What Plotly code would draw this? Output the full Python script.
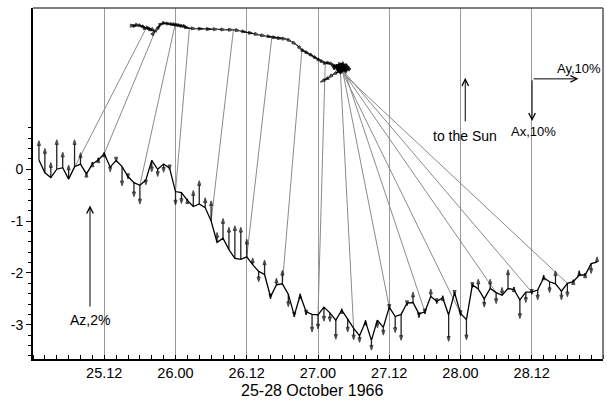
import plotly.graph_objects as go

# ---------------- data ----------------
hours = list(range(1, 96))  # hours since 25 Oct 00:00

az = [0.18, -0.07, -0.16, 0.00, 0.03, -0.19, 0.05, 0.10, -0.09, 0.10,
      0.18, 0.30, 0.04, 0.17, 0.05, -0.14, -0.26, -0.31, -0.21, 0.17,
      0.00, 0.10, 0.02, -0.43, -0.45, -0.60, -0.72, -0.67, -0.74, -1.00,
      -1.41, -1.33, -1.55, -1.72, -1.74, -1.69, -1.84, -1.97, -2.03, -2.46,
      -2.23, -2.21, -2.41, -2.82, -2.43, -2.75, -2.80, -2.81, -2.66, -2.77,
      -2.91, -2.72, -2.89, -3.07, -3.21, -2.94, -3.30, -2.91, -3.05, -2.66,
      -2.84, -2.80, -2.58, -2.57, -2.79, -2.75, -2.45, -2.55, -2.48, -2.81,
      -2.38, -2.78, -2.90, -2.23, -2.31, -2.50, -2.30, -2.38, -2.43, -2.30,
      -2.32, -2.52, -2.37, -2.37, -2.33, -2.09, -2.17, -2.21, -2.35, -2.20,
      -2.17, -2.04, -2.04, -1.82, -1.79]

az_tip = [0.55, 0.40, 0.13, 0.57, 0.33, 0.08, 0.57, 0.32, -0.06, 0.14,
          0.22, 0.33, -0.05, 0.14, -0.32, -0.18, -0.53, -0.67, -0.30, -0.05,
          -0.14, -0.06, -0.01, -0.69, -0.66, -0.57, -0.41, -0.22, -0.55, -0.61,
          -1.22, -0.95, -1.12, -1.09, -1.12, -1.35, -1.71, -2.17, -1.75, -2.50,
          -2.10, -1.95, -2.65, -2.85, -2.40, -2.81, -3.14, -3.08, -2.93, -2.94,
          -3.28, -2.69, -3.14, -3.29, -3.34, -2.91, -3.49, -3.06, -3.20, -2.70,
          -3.15, -3.30, -2.63, -2.37, -2.86, -2.79, -2.31, -2.59, -2.44, -3.32,
          -2.43, -2.82, -3.29, -2.28, -2.12, -2.66, -2.12, -2.59, -2.28, -1.94,
          -2.27, -2.88, -2.57, -2.41, -2.52, -2.04, -2.38, -1.96, -2.52, -2.46,
          -2.13, -1.96, -2.00, -2.01, -1.69]

# hodograph (Ay, Ax) trace, expressed in the chart's own axis units
hodo_x = [16.85, 17.19, 17.61, 18.03, 18.54, 19.05, 19.38, 19.72, 20.06, 20.31,
          20.48, 20.56, 21.07, 21.41, 22.00, 22.59, 23.26, 23.93, 24.36, 24.78,
          25.20, 25.62, 25.96, 26.34, 27.47, 28.65, 30.00, 31.18, 32.45, 33.76,
          34.89, 35.98, 37.08, 38.09, 39.19, 40.23, 41.13, 41.97, 42.76, 43.57,
          44.41, 45.29, 45.93, 46.60, 47.28, 47.95, 48.63, 49.22, 49.72, 50.23,
          50.65, 51.07, 51.41, 51.74, 52.08, 52.42, 52.76, 52.92, 52.59, 52.08,
          51.74, 51.41, 51.74, 52.25, 52.59, 52.25, 51.91, 51.58, 51.24, 50.90,
          51.24, 51.74, 52.25, 52.76, 53.09, 52.76, 52.42, 52.08, 51.74, 51.41,
          51.74, 52.08, 52.42, 52.08, 51.74, 51.41, 51.07, 51.41, 51.91, 51.74,
          51.07, 50.40, 49.72, 49.05, 48.37]

hodo_y = [2.77, 2.77, 2.78, 2.77, 2.75, 2.72, 2.72, 2.70, 2.68, 2.67,
          2.65, 2.66, 2.73, 2.79, 2.82, 2.81, 2.80, 2.79, 2.78, 2.77,
          2.76, 2.75, 2.73, 2.72, 2.71, 2.71, 2.70, 2.70, 2.69, 2.69,
          2.67, 2.64, 2.62, 2.59, 2.57, 2.55, 2.53, 2.52, 2.51, 2.46,
          2.40, 2.30, 2.26, 2.22, 2.17, 2.12, 2.08, 2.05, 2.05, 2.03,
          2.00, 1.98, 1.97, 1.95, 1.97, 1.99, 1.97, 1.94, 1.92, 1.94,
          1.97, 2.01, 2.03, 2.03, 1.99, 1.96, 1.92, 1.90, 1.94, 1.97,
          1.99, 1.96, 1.92, 1.90, 1.94, 1.97, 1.94, 1.90, 1.88, 1.92,
          1.96, 1.99, 1.96, 1.92, 1.90, 1.94, 1.96, 1.97, 1.94, 1.90,
          1.86, 1.82, 1.76, 1.72, 1.68]

link_hours = list(range(6, 91, 6))

tick_hours = [12, 24, 36, 48, 60, 72, 84]
tick_labels = ["25.12", "26.00", "26.12", "27.00", "27.12", "28.00", "28.12"]
y_ticks = [0, -1, -2, -3]
y_labels = ["0", "-1", "-2", "-3"]
y_minor = [round(-3.6 + 0.2 * i, 1) for i in range(23)]  # -3.6 ... 0.8

FONT = "Liberation Sans, Arial, sans-serif"

fig = go.Figure()

# connectors between hodograph points and the time series
cx, cy = [], []
for h in link_hours:
    i = hours.index(h)
    cx += [hodo_x[i], h, None]
    cy += [hodo_y[i], az[i], None]
fig.add_trace(go.Scatter(x=cx, y=cy, mode="lines",
                         line=dict(color="#8a8a8a", width=1), hoverinfo="skip"))

# vertical arrows at each hourly point
sx, sy, ss = [], [], []
for h, a, t in zip(hours, az, az_tip):
    sx += [h, h, None]
    sy += [a, t, None]
    ss += [0, 5, 0]
fig.add_trace(go.Scatter(x=sx, y=sy, mode="lines+markers",
                         line=dict(color="#222222", width=1.3),
                         marker=dict(symbol="arrow", size=ss, angleref="previous",
                                     color="black", line=dict(width=1, color="black")),
                         hoverinfo="skip"))

# Az series
fig.add_trace(go.Scatter(x=hours, y=az, mode="lines",
                         line=dict(color="black", width=1.3), hoverinfo="skip"))

# hodograph
hs = [0] + [5] * (len(hodo_x) - 1)
fig.add_trace(go.Scatter(x=hodo_x, y=hodo_y, mode="lines+markers",
                         line=dict(color="black", width=1.2),
                         marker=dict(symbol="arrow", size=hs, angleref="previous",
                                     color="black", line=dict(width=1, color="black")),
                         hoverinfo="skip"))

ann = []
def arrow(x0, y0, x1, y1):
    ann.append(dict(x=x1, y=y1, ax=x0, ay=y0, xref="x", yref="y", axref="x", ayref="y",
                    text="", showarrow=True, arrowhead=5, arrowsize=1.3,
                    arrowwidth=1, arrowcolor="black"))
def label(x, y, t, s=14):
    ann.append(dict(x=x, y=y, xref="x", yref="y", text=t, showarrow=False,
                    font=dict(family=FONT, size=s, color="black")))

arrow(9.6, -2.68, 9.6, -0.70)
label(9.6, -2.91, "Az,2%")
arrow(72.8, 0.894, 72.8, 1.763)
label(72.8, 0.643, "to the Sun")
arrow(84.05, 1.743, 91.86, 1.743)
label(91.9, 1.95, "Ay,10%", 13)
arrow(84.05, 1.743, 84.05, 0.93)
label(84.3, 0.72, "Ax,10%", 13)
ann.append(dict(x=0.49, y=-0.091, xref="paper", yref="paper", text="25-28 October 1966",
                showarrow=False, yanchor="middle",
                font=dict(family=FONT, size=16, color="black")))

fig.update_layout(
    width=607, height=402,
    margin=dict(l=33, r=4, t=8, b=43),
    paper_bgcolor="white", plot_bgcolor="white",
    showlegend=False,
    annotations=ann,
    font=dict(family=FONT, color="black"),
    shapes=[
        dict(type="line", xref="paper", yref="paper", x0=0, x1=1, y0=1, y1=1,
             line=dict(color="#555555", width=1.5)),
        dict(type="line", xref="paper", yref="paper", x0=1, x1=1, y0=0, y1=1,
             line=dict(color="#555555", width=1.5)),
    ],
)
fig.update_xaxes(range=[0, 96], tickvals=tick_hours, ticktext=tick_labels,
                 showgrid=True, gridcolor="#9a9a9a", gridwidth=1.3,
                 zeroline=False, showline=True, linecolor="black", linewidth=2,
                 ticks="", tickfont=dict(family=FONT, size=14.5, color="black"),
                 minor=dict(dtick=2, ticks="inside", ticklen=4, tickcolor="black",
                            showgrid=False))
fig.update_yaxes(range=[-3.66, 3.11], tickvals=y_ticks, ticktext=y_labels,
                 showgrid=False, zeroline=False, showline=True, linecolor="black",
                 linewidth=2, ticks="outside", ticklen=5, tickcolor="black",
                 tickfont=dict(family=FONT, size=14, color="black"),
                 minor=dict(tickvals=y_minor, ticks="outside", ticklen=3,
                            tickcolor="black", showgrid=False))

fig.write_html("out.html")
